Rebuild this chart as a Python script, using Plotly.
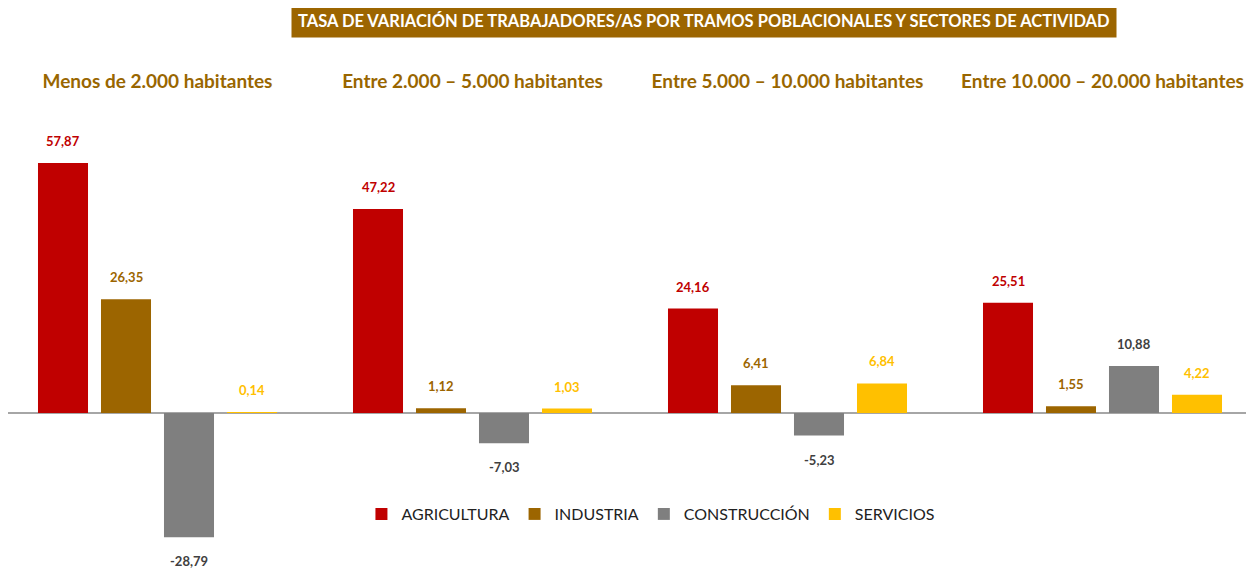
import plotly.graph_objects as go

groups = ["Menos de 2.000 habitantes", "Entre 2.000 – 5.000 habitantes",
          "Entre 5.000 – 10.000 habitantes", "Entre 10.000 – 20.000 habitantes"]
series_names = ["AGRICULTURA", "INDUSTRIA", "CONSTRUCCIÓN", "SERVICIOS"]
agricultura = [57.87, 47.22, 24.16, 25.51]
industria = [26.35, 1.12, 6.41, 1.55]
construccion = [-28.79, -7.03, -5.23, 10.88]
servicios = [0.14, 1.03, 6.84, 4.22]
values = [agricultura, industria, construccion, servicios]
bar_colors = ["#C00000", "#9C6500", "#7F7F7F", "#FFC000"]
label_colors = ["#C00000", "#9C6500", "#404040", "#FFC000"]

FONT = "Lato"
fig = go.Figure()
for name, vals, col in zip(series_names, values, bar_colors):
    fig.add_trace(go.Bar(x=groups, y=vals, name=name, marker=dict(color=col, line=dict(width=0))))

def fmt(v):
    return f"{v:.2f}".replace(".", ",")

offsets = [-0.3, -0.1, 0.1, 0.3]
annotations = []
for si, vals in enumerate(values):
    for gi, v in enumerate(vals):
        pos = v >= 0
        annotations.append(dict(
            x=gi + offsets[si], y=v, xref="x", yref="y", text=f"<b>{fmt(v)}</b>",
            showarrow=False, yanchor="bottom" if pos else "top",
            yshift=12 if pos else -14,
            font=dict(family=FONT, size=13, color=label_colors[si])))

annotations.append(dict(
    x=0.5613, y=1.1717, xref="paper", yref="paper", xanchor="center", yanchor="middle",
    text="<b>TASA DE VARIACIÓN DE TRABAJADORES/AS POR TRAMOS POBLACIONALES Y SECTORES DE ACTIVIDAD</b>",
    showarrow=False, bgcolor="#9C6500", borderpad=6,
    font=dict(family=FONT, size=16.5, color="white")))

fig.update_layout(
    width=1254, height=572,
    margin=dict(l=0, r=14, t=92, b=20),
    paper_bgcolor="white", plot_bgcolor="white",
    barmode="group", bargap=0.2, bargroupgap=0.206,
    font=dict(family=FONT),
    annotations=annotations,
    showlegend=True,
    legend=dict(orientation="h", x=0.5185, xanchor="center", y=0.1, yanchor="middle",
                font=dict(family=FONT, size=16, color="#222222"), itemwidth=30,
                traceorder="normal"),
    xaxis=dict(side="top", range=[-0.4746, 3.4619], showgrid=False, showline=False,
               ticks="", ticklabelstandoff=7,
               tickfont=dict(family=FONT, size=19, color="#996600", weight="bold")),
    yaxis=dict(range=[-34.03, 72.45], showgrid=False, showticklabels=False, ticks="",
               zeroline=True, zerolinecolor="#A6A6A6", zerolinewidth=1.5),
)
fig.write_html("out.html")
